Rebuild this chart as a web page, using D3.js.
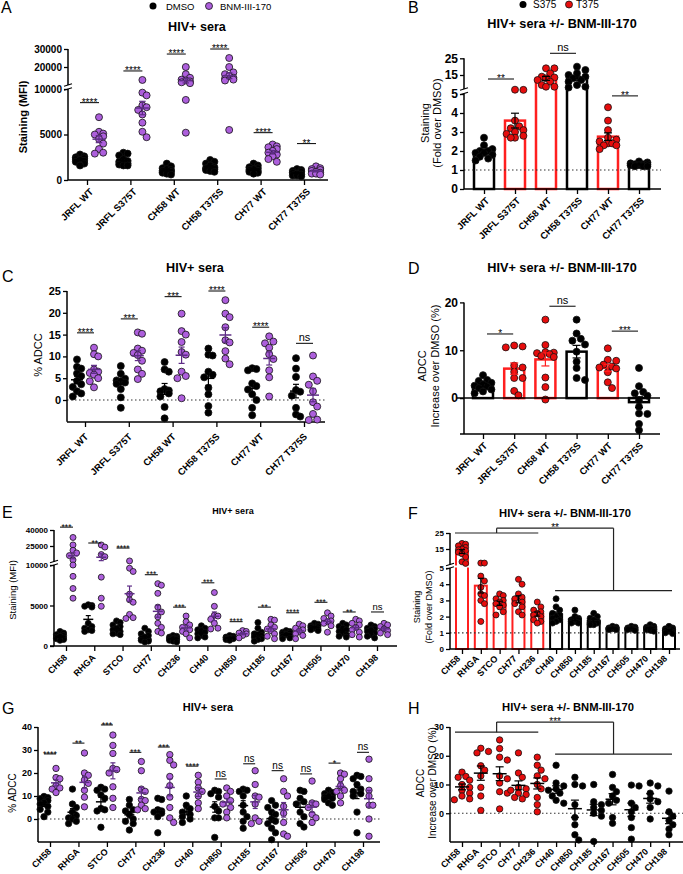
<!DOCTYPE html>
<html>
<head>
<meta charset="utf-8">
<style>
  body { margin: 0; background: #fff; }
  svg { font-family: Arial, "Liberation Sans", sans-serif; display: block; }
  .axis .domain { display: none; }
  .axis .tick line { stroke: #000; stroke-width: 1.3px; }
  .axis .tick text { fill: #000; font-weight: bold; }
</style>
</head>
<body>
<svg width="683" height="874"></svg>
<script src="https://d3js.org/d3.v7.min.js"></script>
<script>
// ---------- data: panels A-D (JRFL / CH58 / CH77 Env variants) ----------
const catsAD = ["JRFL WT", "JRFL S375T", "CH58 WT", "CH58 T375S", "CH77 WT", "CH77 T375S"];
const t375AD = [false, true, true, false, true, false];

// A: staining (MFI), DMSO vs BNM-III-170
const aDmso = [
  [2800, 2600, 2500, 2400, 2300, 2200, 2100, 2000, 1800, 1600],
  [3000, 2900, 2700, 2300, 2100, 2000, 1800, 1700, 1600, 1600],
  [1800, 1500, 1300, 1200, 1100, 1000, 900, 800, 700, 600],
  [2200, 2000, 1800, 1600, 1400, 1300, 1200, 1100, 1000, 900],
  [1800, 1600, 1400, 1300, 1200, 1100, 1000, 900, 800, 700],
  [1200, 1100, 1000, 900, 800, 700, 600, 500, 500, 400]
];
const aBnm = [
  [6900, 5300, 5100, 5000, 4800, 4500, 4000, 3400, 3000, 2900],
  [12800, 9600, 9300, 8200, 8000, 7700, 7200, 6300, 5300, 4700],
  [20000, 16000, 14000, 13000, 12500, 12000, 11500, 11000, 8800, 5200],
  [25000, 20000, 17000, 16000, 15000, 14000, 13500, 13000, 12500, 5500],
  [3900, 3700, 3600, 3400, 3200, 3000, 2800, 2600, 2300, 2000],
  [1500, 1300, 1200, 1100, 1000, 900, 800, 700, 700, 600]
];
const aSig = ["****", "****", "****", "****", "****", "**"];
const aSigY = [8500, 17800, 27200, 30000, 5200, 4000];
const aTicks = [0, 5000, 10000, 20000, 30000];

// B: staining fold over DMSO
const bVals = [
  [2.7, 2.3, 2.1, 2.0, 2.0, 1.9, 1.9, 1.8, 1.7, 1.6, 1.5],
  [6.2, 6.1, 3.6, 3.3, 3.2, 3.1, 3.0, 2.9, 2.8, 2.7, 2.7],
  [19, 19, 16, 14, 13.5, 13, 12, 11, 9, 8, 8],
  [20, 18, 16, 15, 14, 13, 12, 11, 9, 8, 7.5],
  [4.3, 3.6, 3.1, 2.7, 2.6, 2.5, 2.4, 2.4, 2.3, 2.3, 2.1],
  [1.45, 1.4, 1.35, 1.3, 1.3, 1.3, 1.25, 1.25, 1.2, 1.2, 1.2]
];
const bPairs = [[0, 1], [2, 3], [4, 5]];
const bSig = ["**", "ns", "**"];
const bSigY = [12.6, 28, 4.9];
const bTicks = [0, 1, 2, 3, 4, 5, 15, 25];

// C: % ADCC
const cDmso = [
  [9.3, 7.6, 7.2, 6.1, 5.5, 4.4, 3.6, 3.0, 2.0, 1.5, 0.8],
  [7.8, 6.0, 4.9, 4.5, 4.3, 4.0, 3.7, 2.5, 0.6, -1.8],
  [8.7, 7.0, 6.5, 2.5, 2.2, 2.0, 1.5, 0.8, -1.6, -4.2],
  [11.8, 10.4, 10.2, 6.5, 5.8, 5.2, 2.8, 1.3, -1.4, -2.9],
  [7.3, 7.1, 6.8, 3.8, 3.2, 2.4, 1.3, 0, -1.8, -3.5],
  [9.6, 7.2, 5.3, 2.3, 1.9, 1.0, -1.8, -3.3, -3.8]
];
const cBnm = [
  [12, 10.5, 10, 7, 6.5, 6.2, 5.8, 5.0, 4.3, 2.9],
  [15.5, 15.2, 11.8, 11.3, 10.8, 10.3, 9.0, 7.0, 6.0, 4.8],
  [19.8, 15.8, 15, 13.3, 11, 10.4, 6.5, 5.5, 5, 0.4],
  [22.9, 19.8, 19, 16.7, 13.7, 13.2, 11.2, 9.5, 8.2],
  [14.6, 13.4, 13, 12, 10.5, 9.4, 6.8, 5.2, 0.8],
  [10.2, 5.4, 4.4, 3.5, 2.0, -0.5, -1.5, -3.2, -4.5, -4.6]
];
const cSig = ["****", "***", "***", "****", "****", "ns"];
const cSigY = [15.4, 18.6, 23.7, 25, 16.7, 13];
const cTicks = [0, 5, 10, 15, 20, 25];

// D: ADCC increase over DMSO (%)
const dVals = [
  [4.8, 3.8, 3.6, 3.2, 2.9, 2.6, 2.4, 2.1, 1.8, 1.4, 1.0],
  [11, 10.8, 10.6, 6.8, 6.4, 5.5, 4.2, 4.2, 1.5, 0.6],
  [16.4, 11.1, 9.6, 9.5, 9.4, 9.2, 8.8, 8.6, 4.3, 2.3, -0.3],
  [16.4, 13.5, 12.4, 12, 11.2, 9.7, 7.6, 6.3, 4.2, 3.8],
  [10.4, 8.0, 7.8, 7.0, 6.6, 6.4, 6.2, 5.4, 3.3, 2.1],
  [6.3, 2.5, 1.3, 1.0, 0.5, -0.5, -1.8, -3.2, -3.3, -5.4, -6.7]
];
const dPairs = [[0, 1], [2, 3], [4, 5]];
const dSig = ["*", "ns", "***"];
const dSigY = [13.4, 19.2, 14];
const dTicks = [0, 10, 20];

// ---------- data: panels E-H (12 transmitted/founder Envs) ----------
const catsEH = ["CH58", "RHGA", "STCO", "CH77", "CH236", "CH40", "CH850", "CH185", "CH167", "CH505", "CH470", "CH198"];
const t375EH = [true, true, true, true, true, false, false, false, false, false, false, false];

const eDmso = [
  [1800, 1600, 1400, 1300, 1200, 1100, 1000, 900, 800, 700],
  [5100, 5000, 4900, 4800, 2800, 2400, 2200, 2000, 1900, 1800],
  [3100, 2900, 2600, 2400, 2200, 2000, 1800, 1600, 1500, 1400],
  [2200, 1800, 1500, 1300, 1100, 900, 800, 700, 600, 500],
  [1300, 1200, 1100, 1000, 900, 900, 800, 700, 600, 500],
  [2500, 2200, 2000, 1900, 1700, 1500, 1300, 1100, 1000],
  [1300, 1200, 1100, 1000, 1000, 900, 900, 800, 700],
  [2900, 2200, 1700, 1500, 1400, 1300, 1100, 900, 800, 600],
  [1900, 1800, 1700, 1600, 1500, 1400, 1300, 1200, 1000, 900],
  [2800, 2700, 2500, 2400, 2300, 2200, 2100, 2000, 1900],
  [2800, 2600, 2400, 2200, 2000, 1800, 1600, 1400, 1200, 1100],
  [2600, 2400, 2200, 2100, 2000, 1800, 1600, 1400, 1200, 1000]
];
const eBnm = [
  [33000, 26000, 21000, 18500, 16000, 12000, 10000, 8600, 7100, 5900],
  [26000, 24000, 17000, 15000, 8500, 5900, 4900],
  [11000, 9600, 9200, 6400, 5700, 5400, 3900, 3500, 3400],
  [7700, 7500, 6500, 4800, 4200, 3600, 2800, 2300, 1800, 1600],
  [3700, 3000, 2600, 2300, 2000, 1800, 1500, 1000],
  [6600, 4900, 3800, 3700, 3300, 2800, 2200, 2100],
  [1900, 1800, 1600, 1500, 1300, 1000],
  [3300, 3200, 2600, 2300, 2100, 1900, 1500, 1200, 900],
  [2700, 2500, 2200, 2000, 1800, 1500, 1300, 900],
  [4100, 3700, 3400, 3100, 3000, 2800, 2500, 1700],
  [3300, 3100, 2800, 2600, 2300, 2000, 1700, 1400, 1100],
  [2800, 2600, 2400, 2100, 1900, 1600, 1400]
];
const eSig = ["***", "**", "****", "***", "***", "***", "****", "**", "****", "***", "**", "ns"];
const eSigY = [42700, 27800, 23100, 8800, 4800, 7800, 3000, 4800, 4100, 5400, 4200, 4200];
const eTicks = [0, 5000, 10000, 25000, 40000];

const fVals = [
  [18.5, 18, 17, 16, 15, 14.5, 14, 13, 12, 10, 7, 6],
  [6.2, 6.2, 4.5, 4.2, 3.8, 3.4, 3.3, 3.0, 2.8, 1.7],
  [3.4, 3.3, 3.1, 3.0, 2.9, 2.8, 2.7, 2.6, 2.3, 2.1],
  [4.3, 4.0, 3.4, 3.2, 3.1, 2.9, 2.8, 2.6, 2.3, 2.1],
  [2.9, 2.6, 2.4, 2.3, 2.2, 2.1, 2.0, 1.8, 1.7, 1.6],
  [3.1, 2.6, 2.4, 2.2, 2.1, 2.0, 1.9, 1.8, 1.7, 1.6],
  [2.4, 2.0, 1.9, 1.8, 1.8, 1.7, 1.7, 1.6, 1.6],
  [2.2, 2.0, 1.9, 1.8, 1.7, 1.6, 1.6, 1.5, 1.5],
  [1.4, 1.35, 1.3, 1.3, 1.25, 1.25, 1.2, 1.2],
  [1.4, 1.35, 1.3, 1.3, 1.25, 1.25, 1.2, 1.2, 1.15],
  [1.5, 1.4, 1.35, 1.3, 1.3, 1.25, 1.2, 1.2, 1.15, 1.1],
  [1.4, 1.3, 1.25, 1.2, 1.15, 1.1, 1.05, 1.0, 0.95]
];
const fBracketY = [25, 28, 3.6];   // left arm, top, right arm
const fBracketSig = "**";
const fTicks = [0, 1, 2, 3, 4, 5, 15, 25];

const gDmso = [
  [9.8, 9.3, 8.8, 8.0, 7.2, 6.5, 5.5, 4.2, 3.0, 1.0],
  [13, 6.5, 5, 3, 1.5, 0.5, 0, -1, -2],
  [13.8, 13, 12.5, 10.5, 9, 4.5, 4, 3.5, -3.6],
  [8.5, 6, 4, 3.5, 2, 0, -1, -2, -4.8],
  [9, 8.5, 4, 3.5, 3, 2.5, 1, -6],
  [10, 6, 4.5, 3, 2, 1, 0, -1.5],
  [12.5, 12, 11, 9.5, 5.5, 3.5, 0.5, 0.5, -8],
  [13, 12.5, 12, 10, 6, 3, 1, -1, -4],
  [8, 6, 5, 3, 2, 0, -1, -2, -4, -6, -9],
  [12.5, 12, 9, 7.5, 6.5, 3, 1, -2, -3.5],
  [12.5, 11.5, 11, 10.5, 10, 9.5, 9, 8.5, 7, 6],
  [19, 18.5, 17.5, 15, 13, 12, 11, 10, 3, -6]
];
const gBnm = [
  [22, 18, 17.5, 14.5, 13.5, 13, 11.5],
  [28.7, 20, 19, 17, 15.5, 12.5, 9.5, 5.3],
  [36.5, 32, 28.5, 22, 21.5, 20, 14, 9, 5],
  [25, 21, 13, 12, 8.5, 8, 6, 4.5, 4],
  [28, 25.5, 23.5, 18.5, 14.5, 9.5, 5.0, 0.5, -1.5],
  [19, 16, 13.5, 12, 10, 7, 4.5],
  [13.5, 12, 10, 8, 6.5, 5, 3, 0.5],
  [21, 15, 10, 9.5, 6.5, 0.5, -1, -2],
  [17.5, 12, 10, 5.5, 2.5, -1.5, -6.5, -7.5],
  [16.5, 7, 6.5, 5, 2, 0.5, -1.5],
  [20, 19.5, 17.5, 14.5, 12.5, 12, 10, 7],
  [26, 17.5, 12.5, 10, 6, 6, 0, -7.5]
];
const gSig = ["****", "**", "***", "***", "***", "****", "ns", "ns", "ns", "ns", "*", "ns"];
const gSigY = [28.3, 33, 40.9, 29, 31.3, 23, 17.4, 24, 21, 19.6, 24.3, 29];
const gTicks = [0, 10, 20, 30, 40];

const hVals = [
  [14.3, 12.8, 12.5, 11.5, 10, 9, 8, 7, 6, 5, 4.7],
  [22.6, 21.5, 21, 16.5, 15, 13, 9, 6, 1],
  [25.5, 22.5, 19.5, 18.5, 13, 12, 10.5, 7.5, 7, 1.5],
  [21, 14, 12.5, 9, 8.5, 8, 7, 6.5, 5.5, 5],
  [19.5, 16.7, 15, 13, 12, 10, 8.5, 5.5, 3, 0.5],
  [16.7, 10.5, 9.5, 8.5, 8, 7, 6, 4.5, 3.5],
  [12.5, 10, 9.5, 3, -1.5, -4, -7.5, -9.3],
  [10, 4, 3, 2, 1, 0, -1, -9.8],
  [13.5, 9, 7.5, 6, 4.5, 3.5, -1.5, -3.5],
  [9.8, 9.5, 3.5, 2, 0.5, -1.5, -5, -9],
  [10.5, 9.5, 7, 5, 4, 2, -2],
  [7.7, 0.5, -1, -2.5, -4, -5.5, -7.5]
];
const hBracketY = [28.2, 31.7, 20.6];
const hBracketSig = "***";
const hTicks = [0, 10, 20, 30];

// ---------- drawing helpers ----------
const purple = "#ad5fdc", purpleDark = "#5e2d86", red = "#e60d0d", barRed = "#ff1f1f";
let svg = d3.select("svg");

function ln(x1, y1, x2, y2, w, color, dash) {
  let l = svg.append("line")
    .attr("x1", x1).attr("y1", y1).attr("x2", x2).attr("y2", y2)
    .attr("stroke", color || "#000").attr("stroke-width", w || 1);
  if (dash) l.attr("stroke-dasharray", dash);
  return l;
}

function txt(x, y, t, size, weight, anchor) {
  return svg.append("text").attr("x", x).attr("y", y).text(t)
    .style("font-size", size + "px").style("font-weight", weight || "normal")
    .attr("text-anchor", anchor || "start").attr("fill", "#000");
}

function yTitle(items, cy, size, weight) {
  // items: [[x, text], ...] rotated titles
  items.forEach(it => {
    svg.append("text").attr("transform", `translate(${it[0]},${cy}) rotate(-90)`)
      .attr("text-anchor", "middle").attr("dy", "0.35em").text(it[1])
      .style("font-size", size + "px").style("font-weight", weight || "normal");
  });
}

// polylinear scale with a gap at the axis break
function brokenScale(dom, rng) {
  return d3.scaleLinear().domain([dom[0], dom[1], dom[1] * 1.000001, dom[2]]).range(rng);
}

function yAxis(scale, x, ticks, size, segs) {
  let g = svg.append("g").attr("class", "axis").attr("transform", `translate(${x},0)`)
    .call(d3.axisLeft(scale).tickValues(ticks).tickSize(4).tickPadding(2).tickFormat(d3.format("d")));
  g.selectAll(".tick text").style("font-size", size + "px");
  segs.forEach(s => ln(x, s[0], x, s[1], 1.5));
}

function breakMark(x, y1, y2) {
  ln(x - 4, y1 + 1.2, x + 4, y1 - 1.2, 1.2);
  ln(x - 4, y2 + 1.2, x + 4, y2 - 1.2, 1.2);
}

function xAxis(scale, y, x1, x2, size, dx, dy) {
  let g = svg.append("g").attr("class", "axis").attr("transform", `translate(0,${y})`)
    .call(d3.axisBottom(scale).tickSize(5).tickSizeOuter(0));
  g.selectAll(".tick text").style("font-size", size + "px").attr("text-anchor", "end")
    .attr("x", 0).attr("y", 0).attr("dy", "0.35em")
    .attr("transform", `translate(${dx},${dy}) rotate(-45)`);
  ln(x1, y, x2, y, 1.5);
}

// deterministic side-by-side placement, like Prism scatter columns
function swarm(vals, yS, cx, r, half) {
  let pts = vals.map(v => ({ v: v, y: yS(v) })).sort((a, b) => a.y - b.y);
  let step = r * 1.2;
  let offs = [0];
  for (let k = 1; k <= Math.floor(half / step); k++) offs.push(k * step, -k * step);
  let placed = [];
  pts.forEach(p => {
    let bestX = cx, bestOv = Infinity;
    for (const o of offs) {
      let x = cx + o, ov = 0;
      placed.forEach(q => {
        let d = Math.hypot(q.x - x, q.y - p.y);
        if (d < 1.7 * r) ov += 1.7 * r - d;
      });
      if (ov < bestOv - 1e-9) { bestOv = ov; bestX = x; }
      if (ov === 0) break;
    }
    p.x = bestX;
    placed.push(p);
  });
  return placed;
}

function dots(pts, r, fill) {
  svg.append("g").selectAll("circle").data(pts).join("circle")
    .attr("cx", d => d.x).attr("cy", d => d.y).attr("r", r)
    .attr("fill", fill).attr("stroke", "#111").attr("stroke-width", 0.8);
}

function meanSem(vals, x, yS, meanW, capW, color) {
  let m = d3.mean(vals), se = d3.deviation(vals) / Math.sqrt(vals.length);
  if (meanW) ln(x - meanW / 2, yS(m), x + meanW / 2, yS(m), 1.5, color);
  ln(x, yS(m - se), x, yS(m + se), 1.2, color);
  ln(x - capW / 2, yS(m + se), x + capW / 2, yS(m + se), 1.2, color);
  ln(x - capW / 2, yS(m - se), x + capW / 2, yS(m - se), 1.2, color);
}

function sigMark(x1, x2, y, label, size) {
  ln(x1, y, x2, y, 1);
  let ns = label === "ns";
  txt((x1 + x2) / 2, ns ? y - 2 : y + size * 0.3, label, ns ? size + 1 : size, "normal", "middle");
}

function dotPanel(o) {
  o.cats.forEach((c, i) => {
    let cx = o.x(c);
    let groups = [
      { vals: o.dmso[i], gx: cx + o.offD, fill: "#000", mean: "#000" },
      { vals: o.bnm[i], gx: cx + o.offB, fill: purple, mean: purpleDark }
    ];
    groups.forEach(gr => {
      dots(swarm(gr.vals, o.y, gr.gx, o.r, o.half), o.r, gr.fill);
      meanSem(gr.vals, gr.gx, o.y, o.meanW, o.meanW * 0.5, gr.mean);
    });
    sigMark(cx + o.offD, cx + o.offB, o.y(o.sigY[i]), o.sig[i], o.sigSize);
  });
}

function barPanel(o) {
  o.cats.forEach((c, i) => {
    if (!o.barW) return;
    let cx = o.x(c), m = d3.mean(o.vals[i]);
    svg.append("rect").attr("x", cx - o.barW / 2).attr("width", o.barW)
      .attr("y", Math.min(o.y(m), o.y(0))).attr("height", Math.abs(o.y(0) - o.y(m)))
      .attr("fill", "none").attr("stroke", o.red[i] ? barRed : "#000").attr("stroke-width", o.barSw);
  });
  if (o.band) svg.append("rect").attr("x", o.band[0]).attr("y", o.band[1])
    .attr("width", o.band[2]).attr("height", o.band[3]).attr("fill", "#fff");
  ln(o.x0, o.y(o.refLine), o.x1, o.y(o.refLine), 1.2, "#333", "1.5,2.5");
  o.cats.forEach((c, i) => {
    let cx = o.x(c);
    dots(swarm(o.vals[i], o.y, cx, o.r, o.half), o.r, o.red[i] ? red : "#000");
    let ec = o.errRed && o.red[i] ? barRed : "#000";
    meanSem(o.vals[i], cx, o.y, o.meanW, o.capW, ec);
  });
}

function bracket(x, y, cats, ys, label, size) {
  let xl1 = x(cats[0]) - 7, xl2 = x(cats[4]) + 1, xr1 = x(cats[5]) - 1, xr2 = x(cats[11]) + 3;
  let ml = (xl1 + xl2) / 2, mr = (xr1 + xr2) / 2;
  let yl = y(ys[0]), yt = y(ys[1]), yr = y(ys[2]);
  ln(xl1, yl, xl2, yl, 1.2, "#222");
  ln(ml, yl, ml, yt, 1.2, "#222");
  ln(ml, yt, mr, yt, 1.2, "#222");
  ln(mr, yt, mr, yr, 1.2, "#222");
  ln(xr1, yr, xr2, yr, 1.2, "#222");
  txt((ml + mr) / 2, yt + size * 0.3, label, size, "normal", "middle");
}

// ---------- Panel A ----------
txt(1, 13, "A", 16);
svg.append("circle").attr("cx", 153).attr("cy", 6).attr("r", 3.5).attr("fill", "#000");
txt(166, 9.5, "DMSO", 9.5);
svg.append("circle").attr("cx", 209).attr("cy", 6).attr("r", 3.5).attr("fill", purple).attr("stroke", "#111").attr("stroke-width", 0.8);
txt(220, 9.5, "BNM-III-170", 9.5);
txt(197, 31, "HIV+ sera", 12.6, "bold", "middle");
let yA = brokenScale([0, 10000, 30000], [180, 89, 85, 49]);
let xA = d3.scalePoint().domain(catsAD).range([87, 304]);
yAxis(yA, 68, aTicks, 10, [[180, 89], [85, 49]]);
breakMark(68, 89, 85);
xAxis(xA, 180, 68, 328, 9.5, 4, 10);
yTitle([[23, "Staining (MFI)"]], 117, 11, "bold");
dotPanel({ cats: catsAD, dmso: aDmso, bnm: aBnm, x: xA, y: yA, offD: -7, offB: 12,
  r: 3.5, half: 8, meanW: 13, sig: aSig, sigY: aSigY, sigSize: 10 });

// ---------- Panel B ----------
txt(408, 13, "B", 16);
svg.append("circle").attr("cx", 523).attr("cy", 4.5).attr("r", 3.5).attr("fill", "#000");
txt(533, 8, "S375", 10);
svg.append("circle").attr("cx", 569).attr("cy", 4.5).attr("r", 3.5).attr("fill", red).attr("stroke", "#111").attr("stroke-width", 0.8);
txt(576, 8, "T375", 10);
txt(562, 28, "HIV+ sera +/- BNM-III-170", 12.7, "bold", "middle");
let yB = brokenScale([0, 5, 25], [189, 94, 91.7, 58.3]);
let xB = d3.scalePoint().domain(catsAD).range([484, 639]);
barPanel({ cats: catsAD, vals: bVals, red: t375AD, x: xB, y: yB, barW: 20, barSw: 2.5,
  r: 3.5, half: 9, meanW: 0, capW: 8, refLine: 1, x0: 464, x1: 661 });
yAxis(yB, 464, bTicks, 12, [[189, 93.5], [89, 58.3]]);
breakMark(464, 93.5, 89);
xAxis(xB, 189, 464, 661, 9.5, 3, 10);
yTitle([[425, "Staining"], [437, "(Fold over DMSO)"]], 123, 11);
bPairs.forEach((p, i) => sigMark(xB(catsAD[p[0]]) + 4, xB(catsAD[p[1]]) - 1, yB(bSigY[i]), bSig[i], 10));

// ---------- Panel C ----------
txt(2, 282, "C", 16);
txt(195, 272, "HIV+ sera", 12.6, "bold", "middle");
let yC = d3.scaleLinear().domain([-5, 25]).range([421.8, 291]);
let xC = d3.scalePoint().domain(catsAD).range([85, 304]);
ln(67, yC(0), 325, yC(0), 1.2, "#333", "1.5,2.5");
yAxis(yC, 67, cTicks, 11, [[yC(-5), yC(25)]]);
xAxis(xC, 422, 67, 325, 9.5, 1, 13);
yTitle([[38, "% ADCC"]], 355, 11);
dotPanel({ cats: catsAD, dmso: cDmso, bnm: cBnm, x: xC, y: yC, offD: -8, offB: 9,
  r: 3.5, half: 8, meanW: 12, sig: cSig, sigY: cSigY, sigSize: 10 });

// ---------- Panel D ----------
txt(408, 274, "D", 16);
txt(562, 272, "HIV+ sera +/- BNM-III-170", 12.7, "bold", "middle");
let yD = d3.scaleLinear().domain([-7.5, 20]).range([434, 302.4]);
let xD = d3.scalePoint().domain(catsAD).range([483, 639]);
barPanel({ cats: catsAD, vals: dVals, red: t375AD, x: xD, y: yD, barW: 20, barSw: 2.5,
  r: 3.5, half: 10, meanW: 0, capW: 8, errRed: true, refLine: 0, x0: 464, x1: 464 });
yAxis(yD, 464, dTicks, 12, [[yD(-7.5), yD(20)]]);
ln(457, yD(0), 660, yD(0), 1.5);
xAxis(xD, 434, 460, 660, 9.5, 2, 10);
yTitle([[422, "ADCC"], [435, "Increase over DMSO (%)"]], 366, 11);
dPairs.forEach((p, i) => sigMark(xD(catsAD[p[0]]) + 4, xD(catsAD[p[1]]) - 1, yD(dSigY[i]), dSig[i], 10));

// ---------- Panel E ----------
txt(2, 518, "E", 16);
txt(233, 514, "HIV+ sera", 9, "bold", "middle");
let yE = brokenScale([0, 10000, 40000], [646, 565, 562, 530]);
let xE = d3.scalePoint().domain(catsEH).range([66, 377]);
yAxis(yE, 54, eTicks, 8, [[646, 565], [562, 530]]);
breakMark(54, 565, 561.5);
xAxis(xE, 646, 50, 397, 9, -1, 10);
yTitle([[13, "Staining (MFI)"]], 590, 9.5);
dotPanel({ cats: catsEH, dmso: eDmso, bnm: eBnm, x: xE, y: yE, offD: -6, offB: 7,
  r: 3, half: 6, meanW: 10, sig: eSig, sigY: eSigY, sigSize: 8.5 });

// ---------- Panel F ----------
txt(408, 519, "F", 16);
txt(565, 517, "HIV+ sera +/- BNM-III-170", 11.2, "bold", "middle");
let yF = brokenScale([0, 5, 25], [649, 568, 565, 533]);
let xF = d3.scalePoint().domain(catsEH).range([462, 669]);
barPanel({ cats: catsEH, vals: fVals, red: t375EH, x: xF, y: yF, barW: 12, barSw: 2,
  r: 3, half: 6, meanW: 0, capW: 6, refLine: 1, x0: 450, x1: 680, band: [451, 565.5, 230, 2] });
yAxis(yF, 450, fTicks, 8, [[649, 568], [565, 533]]);
breakMark(450, 568, 564.5);
xAxis(xF, 649, 450, 680, 9, -4, 8);
yTitle([[417, "Staining"], [429, "(Fold over DMSO)"]], 607, 9);
bracket(xF, yF, catsEH, fBracketY, fBracketSig, 10);

// ---------- Panel G ----------
txt(2, 714, "G", 16);
txt(208, 711, "HIV+ sera", 11, "bold", "middle");
let yG = d3.scaleLinear().domain([-10, 40]).range([842, 727]);
let xG = d3.scalePoint().domain(catsEH).range([50, 363]);
ln(38, yG(0), 380, yG(0), 1.2, "#333", "1.5,2.5");
yAxis(yG, 38, gTicks, 9, [[yG(-10), yG(40)]]);
xAxis(xG, 842, 38, 380, 9, -1, 8);
yTitle([[12, "% ADCC"]], 793, 10);
dotPanel({ cats: catsEH, dmso: gDmso, bnm: gBnm, x: xG, y: yG, offD: -6, offB: 6,
  r: 3.2, half: 6, meanW: 10, sig: gSig, sigY: gSigY, sigSize: 9 });

// ---------- Panel H ----------
txt(408, 714, "H", 16);
txt(568, 711, "HIV+ sera +/- BNM-III-170", 11.2, "bold", "middle");
let yH = d3.scaleLinear().domain([-10, 30]).range([842, 727]);
let xH = d3.scalePoint().domain(catsEH).range([462, 669]);
barPanel({ cats: catsEH, vals: hVals, red: t375EH, x: xH, y: yH, barW: 0,
  r: 3.2, half: 8, meanW: 14, capW: 8, refLine: 0, x0: 450, x1: 683 });
yAxis(yH, 450, hTicks, 9, [[yH(-10), yH(30)]]);
xAxis(xH, 842, 450, 683, 9, -4, 8);
yTitle([[420, "ADCC"], [432, "Increase over DMSO (%)"]], 783, 10);
bracket(xH, yH, catsEH, hBracketY, hBracketSig, 10);
</script>
</body>
</html>
